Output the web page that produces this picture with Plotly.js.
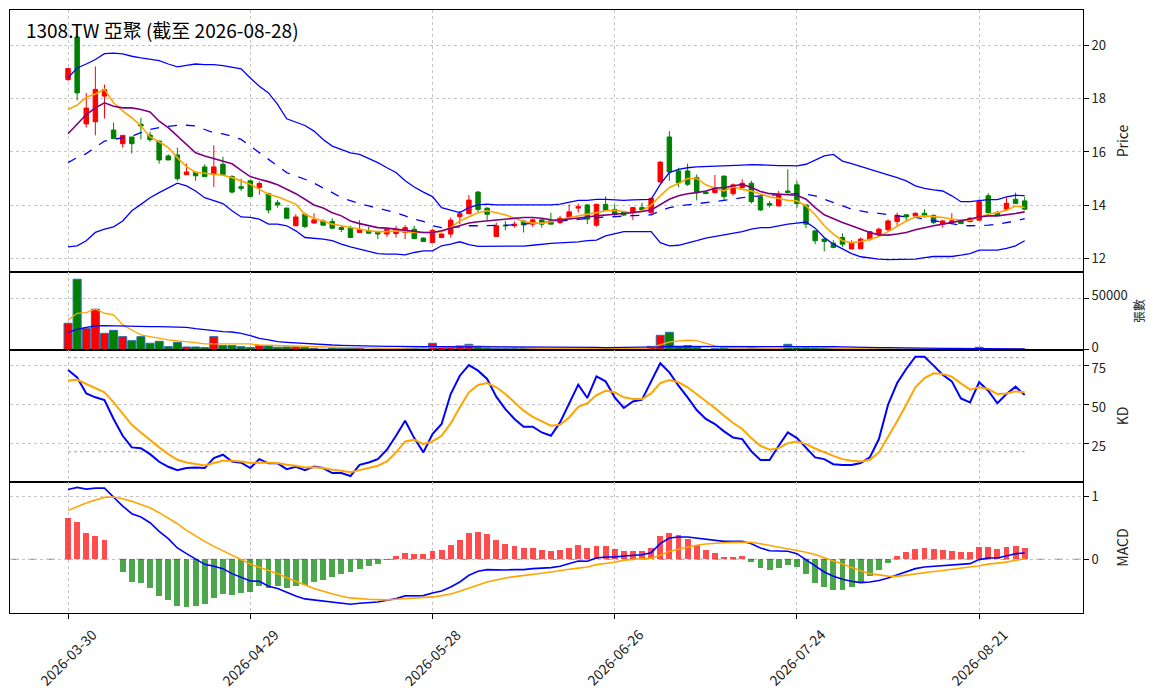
<!DOCTYPE html>
<html>
<head>
<meta charset="utf-8">
<script src="https://cdn.plot.ly/plotly-3.0.1.min.js"></script>
<style>
  html, body { margin: 0; padding: 0; background: #fff; }
  #chart { width: 1163px; height: 698px; }
</style>
</head>
<body>
<div id="chart"></div>
<script>
// 1308.TW daily candles, 2026-03-30 .. 2026-08-28 (trading days)
const TICK_POS = [0, 20, 40, 60, 80, 100];
const TICK_TEXT = ["2026-03-30", "2026-04-29", "2026-05-28", "2026-06-26", "2026-07-24", "2026-08-21"];

const OPEN = [18.71,20.30,17.05,17.13,18.09,16.82,16.31,16.56,17.03,16.63,
  16.41,15.85,15.89,15.15,15.24,15.44,15.16,15.54,15.08,14.70,
  14.92,14.67,14.44,14.10,13.90,13.24,13.67,13.34,13.42,13.40,
  13.17,13.15,12.99,13.05,13.00,12.93,12.95,12.99,13.11,12.78,
  12.61,12.80,12.93,13.58,13.69,14.50,13.90,12.84,13.26,13.24,
  13.42,13.30,13.46,13.42,13.36,13.55,13.90,14.02,13.26,14.04,
  13.85,13.76,13.73,13.92,13.73,14.88,16.56,15.29,15.29,15.04,
  14.50,14.48,15.10,14.44,14.67,14.83,14.32,14.07,13.98,14.54,
  14.77,14.02,13.05,12.74,12.59,12.80,12.37,12.38,12.74,12.90,
  13.09,13.40,13.65,13.61,13.71,13.63,13.30,13.40,13.42,13.40,
  13.45,14.36,13.73,13.86,14.23,14.17];
const HIGH = [19.15,20.40,18.21,19.20,18.52,17.10,16.62,16.56,17.28,16.76,
  16.41,15.91,16.16,15.56,15.24,15.54,16.25,15.82,15.13,15.00,
  14.95,14.90,14.48,14.20,13.92,13.67,13.73,13.71,13.48,13.52,
  13.24,13.24,13.45,13.20,13.02,13.11,13.24,13.27,13.24,12.80,
  13.11,12.95,13.55,13.79,14.39,14.54,13.92,13.36,13.42,13.40,
  13.45,13.51,13.48,13.73,13.61,14.04,14.07,14.05,14.07,14.34,
  14.04,13.80,13.95,14.10,14.30,15.66,16.78,15.41,15.56,15.16,
  14.54,15.14,15.10,14.82,14.98,14.92,14.32,14.17,14.54,15.35,
  14.92,14.02,13.05,12.80,12.70,12.96,12.70,12.80,13.05,13.17,
  13.48,13.73,13.65,13.73,13.86,13.66,13.45,13.71,13.48,13.57,
  14.23,14.46,13.80,14.29,14.48,14.32];
const LOW = [18.65,17.93,16.91,16.62,17.25,16.50,16.16,15.94,16.47,16.38,
  15.56,15.70,14.92,15.15,14.92,15.08,14.69,15.13,14.44,14.54,
  14.33,14.40,13.71,13.92,13.52,13.24,13.15,13.34,13.26,13.11,
  13.00,12.80,12.99,12.96,12.74,12.83,12.80,12.74,12.76,12.65,
  12.59,12.78,12.80,13.30,13.67,13.73,13.42,12.84,13.07,13.17,
  12.99,13.20,13.17,13.30,13.30,13.52,13.73,13.30,13.21,13.80,
  13.55,13.60,13.45,13.80,13.64,14.85,14.92,14.69,14.73,14.19,
  14.44,14.44,14.19,14.36,14.64,14.07,13.80,13.92,13.98,14.44,
  13.90,13.15,12.55,12.28,12.40,12.45,12.37,12.38,12.68,12.86,
  13.05,13.24,13.39,13.61,13.55,13.30,13.17,13.40,13.32,13.36,
  13.45,13.70,13.61,13.80,14.07,13.82];
const CLOSE = [19.12,18.21,17.64,18.34,18.34,16.50,16.62,16.31,16.97,16.46,
  15.70,15.70,15.00,15.25,15.11,15.08,15.44,15.16,14.50,14.64,
  14.33,14.82,13.83,14.02,13.52,13.57,13.21,13.46,13.26,13.15,
  13.10,12.80,13.09,12.96,12.93,13.11,13.11,13.17,12.76,12.65,
  13.07,12.93,13.45,13.69,14.20,13.85,13.67,13.24,13.24,13.30,
  13.27,13.46,13.30,13.30,13.52,13.76,13.95,13.49,14.04,13.82,
  13.67,13.64,13.92,13.83,14.26,15.62,15.25,14.85,14.79,14.48,
  14.44,14.67,14.33,14.77,14.83,14.14,13.83,14.01,14.38,14.48,
  14.07,13.30,12.68,12.65,12.43,12.55,12.61,12.74,13.02,13.11,
  13.42,13.63,13.57,13.71,13.58,13.36,13.42,13.42,13.32,13.52,
  14.14,13.73,13.65,14.08,14.07,13.86];

const MA5 = [17.59,17.75,18.05,18.17,18.34,17.84,17.53,17.28,16.97,16.56,
  16.38,16.16,15.79,15.45,15.24,15.20,15.16,15.13,15.04,14.92,
  14.79,14.60,14.42,14.32,14.19,14.05,13.67,13.52,13.42,13.30,
  13.24,13.17,13.11,13.05,13.02,13.02,13.05,13.02,12.99,12.99,
  12.99,13.02,13.17,13.42,13.58,13.73,13.80,13.73,13.65,13.52,
  13.40,13.34,13.34,13.39,13.45,13.55,13.61,13.65,13.73,13.80,
  13.82,13.77,13.71,13.80,14.01,14.36,14.67,14.82,15.01,15.01,
  14.77,14.64,14.54,14.70,14.60,14.54,14.42,14.32,14.26,14.19,
  14.17,13.98,13.65,13.24,12.93,12.68,12.61,12.65,12.73,12.84,
  13.02,13.21,13.42,13.57,13.61,13.58,13.55,13.49,13.45,13.45,
  13.57,13.67,13.73,13.82,13.98,13.92];
const MA10 = [16.68,17.03,17.40,17.65,17.84,17.71,17.65,17.65,17.59,17.50,
  17.15,16.91,16.59,16.28,15.97,15.85,15.76,15.66,15.56,15.31,
  15.08,14.98,14.89,14.77,14.60,14.44,14.23,14.02,13.90,13.73,
  13.61,13.42,13.32,13.24,13.17,13.15,13.11,13.05,13.01,12.99,
  12.99,13.05,13.15,13.24,13.34,13.39,13.42,13.46,13.49,13.52,
  13.55,13.55,13.52,13.46,13.45,13.49,13.52,13.57,13.61,13.65,
  13.67,13.70,13.73,13.77,13.83,14.04,14.23,14.36,14.44,14.48,
  14.54,14.64,14.67,14.73,14.79,14.67,14.52,14.44,14.42,14.42,
  14.38,14.23,13.92,13.65,13.49,13.36,13.24,13.11,12.99,12.90,
  12.89,12.93,12.99,13.09,13.17,13.24,13.30,13.36,13.42,13.49,
  13.57,13.61,13.61,13.65,13.70,13.76];
const BB_UP = [18.77,19.14,19.29,19.46,19.68,19.70,19.67,19.58,19.52,19.46,
  19.42,19.29,19.18,19.24,19.29,19.27,19.27,19.23,19.17,19.11,
  18.77,18.46,18.21,17.78,17.24,17.12,16.99,16.78,16.47,16.22,
  16.10,15.97,15.91,15.76,15.60,15.41,15.23,14.92,14.69,14.50,
  14.33,13.92,13.83,13.73,13.92,14.02,14.05,14.02,14.02,14.02,
  14.02,14.02,14.02,14.02,14.05,14.11,14.19,14.19,14.23,14.23,
  14.22,14.19,14.21,14.23,14.23,14.79,15.23,15.35,15.41,15.44,
  15.45,15.46,15.48,15.50,15.51,15.53,15.51,15.49,15.49,15.49,
  15.48,15.54,15.70,15.85,15.91,15.66,15.56,15.45,15.35,15.23,
  15.14,15.04,14.92,14.73,14.64,14.58,14.54,14.36,14.14,14.14,
  14.17,14.22,14.22,14.32,14.38,14.37];
const BB_MID = [15.60,15.79,15.94,16.16,16.41,16.47,16.53,16.59,16.72,16.84,
  16.91,16.96,17.00,17.00,16.97,16.84,16.72,16.68,16.59,16.47,
  16.22,15.97,15.72,15.48,15.23,15.10,14.98,14.83,14.67,14.48,
  14.29,14.17,14.07,13.98,13.90,13.80,13.73,13.61,13.49,13.40,
  13.24,13.17,13.17,13.20,13.24,13.24,13.24,13.24,13.26,13.27,
  13.30,13.32,13.35,13.39,13.42,13.46,13.49,13.52,13.55,13.57,
  13.58,13.61,13.62,13.63,13.65,13.80,13.92,13.98,14.02,14.07,
  14.11,14.14,14.17,14.23,14.29,14.33,14.36,14.38,14.39,14.42,
  14.44,14.42,14.36,14.23,14.11,13.98,13.86,13.80,13.73,13.70,
  13.65,13.61,13.57,13.55,13.49,13.42,13.36,13.30,13.26,13.24,
  13.24,13.26,13.30,13.36,13.42,13.51];
const BB_LOW = [12.45,12.49,12.68,12.99,13.11,13.20,13.42,13.80,14.04,14.29,
  14.48,14.67,14.83,14.73,14.54,14.29,14.17,14.07,13.80,13.57,
  13.55,13.49,13.30,13.30,13.24,13.05,12.80,12.78,12.74,12.68,
  12.55,12.45,12.37,12.28,12.20,12.18,12.18,12.15,12.24,12.30,
  12.30,12.49,12.55,12.64,12.53,12.47,12.47,12.47,12.47,12.47,
  12.48,12.51,12.55,12.58,12.60,12.61,12.64,12.68,12.70,12.86,
  12.93,13.02,13.02,13.02,13.02,12.61,12.49,12.51,12.59,12.68,
  12.78,12.84,12.88,12.95,13.02,13.11,13.17,13.17,13.24,13.30,
  13.34,13.38,13.15,12.80,12.55,12.37,12.20,12.08,12.03,11.99,
  11.97,11.97,11.98,11.99,12.05,12.09,12.09,12.09,12.14,12.20,
  12.33,12.33,12.33,12.39,12.49,12.68];

// volume in 張
const VOLUME = [25800,68400,21000,39400,16100,19000,12900,9000,12900,6500,
  8400,3200,7400,2900,2900,2300,12900,4200,4200,3200,
  2300,4200,4200,2600,2900,2900,2300,1600,800,1900,
  1600,1900,1900,600,1000,800,1300,1300,1300,1000,
  6500,2600,2600,3900,5500,2600,1900,1600,1300,1300,
  1300,1300,1000,1300,1000,1300,1000,1300,1600,1600,
  1600,1300,1000,1000,3500,14200,17100,3200,4200,2600,
  600,1300,1900,1000,1000,2600,1300,1000,1000,5500,
  2600,2600,1900,2900,1600,1300,1000,1000,800,800,
  800,800,800,800,800,600,600,600,600,800,
  2600,1300,800,800,800,600];
const VOL_MA5 = [29000,35500,36100,39700,35500,33900,24200,19400,14500,12900,
  11000,9700,8700,8100,7100,5800,5800,5800,6100,6100,
  5800,4800,4500,4200,3900,3500,3200,2900,2600,2300,
  2300,2300,2300,1900,1600,1600,1600,1900,1900,1900,
  2600,2900,3200,3500,3900,3900,3500,3200,2900,2100,
  1600,1400,1300,1200,1200,1200,1200,1200,1300,1400,
  1400,1400,1400,1300,2300,4800,7700,8700,9400,9000,
  6500,3900,2300,1900,1900,1900,1900,1600,1600,2600,
  2900,2900,2600,2600,1900,1600,1300,1100,1000,900,
  800,800,800,800,800,700,700,700,600,700,
  1000,1300,1300,1300,1300,1000];
const VOL_MA20 = [17100,20000,21900,23200,23500,23200,22900,22600,22600,22600,
  22600,22600,22600,21900,20600,19400,18400,17700,17400,16100,
  13900,11300,9700,8100,7400,6800,6100,5500,5200,4800,
  4500,4200,3900,3900,3500,3500,3500,3200,3200,3200,
  3200,3200,3200,3200,3200,3200,3200,3200,3200,2900,
  2900,2900,2600,2600,2600,2600,2600,2600,2600,2300,
  2300,2300,2300,2300,2600,2900,3500,3500,3900,3900,
  3900,3900,3900,3900,3900,3900,3900,3900,3900,3900,
  3900,3500,3500,3200,3200,2900,2600,2600,2300,2300,
  2300,2300,2000,2000,1800,1600,1600,1500,1400,1300,
  1300,1200,1200,1100,1000,1000];

const K_LINE = [72.1,67.4,57.2,54.7,53.0,40.9,30.2,22.8,22.3,18.5,
  13.6,10.4,8.3,9.6,10.0,9.6,16.0,18.1,13.8,13.0,
  9.6,15.3,12.6,12.6,8.9,10.4,8.3,10.6,9.6,6.4,
  6.4,4.5,11.7,13.2,15.3,21.3,30.2,39.8,28.7,19.6,
  31.3,37.7,56.8,68.5,75.3,71.7,66.4,55.1,47.2,40.9,
  36.0,36.0,32.3,30.2,38.7,50.4,62.8,54.3,68.1,64.9,
  54.7,47.9,52.1,53.2,64.3,76.4,70.6,62.1,54.7,46.6,
  40.9,37.7,33.0,29.1,28.1,20.2,14.7,14.7,23.8,32.3,
  28.7,22.8,16.4,15.3,12.1,11.5,11.5,12.8,16.4,28.1,
  50.0,63.8,72.8,80.6,80.6,74.9,69.1,64.9,54.0,51.5,
  64.3,58.9,50.9,56.8,61.5,56.2];
const D_LINE = [65.3,66.0,63.2,60.6,57.9,51.5,44.0,37.2,32.3,27.4,
  22.8,18.5,14.9,13.2,12.1,11.3,12.8,14.3,14.3,13.8,
  12.8,13.2,13.0,12.8,11.7,11.1,10.0,10.2,9.6,8.5,
  7.9,7.0,8.3,9.6,11.1,13.8,19.6,26.6,27.7,24.9,
  26.6,30.2,38.1,48.3,57.9,62.6,63.8,61.1,56.8,51.5,
  46.2,42.3,39.4,36.6,37.2,41.9,48.7,50.9,56.2,58.9,
  57.9,54.7,53.6,53.6,57.2,63.8,65.7,64.3,61.1,56.8,
  52.1,47.9,43.0,38.3,34.5,28.7,23.8,21.3,22.3,25.5,
  26.6,24.9,22.1,19.6,17.4,15.3,14.3,13.8,14.9,19.6,
  29.1,39.4,50.0,61.1,67.0,70.0,69.6,67.9,63.6,59.6,
  61.1,60.0,56.8,57.2,58.5,57.9];
const KD_LEVELS = [80, 20];

const OSC = [0.66,0.60,0.42,0.37,0.31,0.0,-0.20,-0.36,-0.38,-0.46,
  -0.59,-0.65,-0.74,-0.76,-0.74,-0.71,-0.62,-0.55,-0.57,-0.54,
  -0.52,-0.43,-0.46,-0.43,-0.46,-0.43,-0.41,-0.36,-0.33,-0.28,
  -0.23,-0.21,-0.15,-0.11,-0.07,-0.005,0.05,0.10,0.085,0.085,
  0.13,0.15,0.23,0.31,0.42,0.44,0.40,0.31,0.24,0.21,
  0.18,0.18,0.15,0.13,0.149,0.181,0.229,0.181,0.213,0.213,
  0.165,0.133,0.133,0.133,0.181,0.372,0.420,0.388,0.324,0.229,
  0.149,0.101,0.037,0.037,0.053,-0.043,-0.138,-0.170,-0.138,-0.090,
  -0.122,-0.234,-0.378,-0.441,-0.489,-0.489,-0.441,-0.378,-0.266,-0.170,
  -0.059,0.053,0.117,0.165,0.181,0.165,0.149,0.133,0.117,0.117,
  0.197,0.197,0.165,0.197,0.213,0.181];
const DIF = [1.117,1.149,1.122,1.138,1.138,0.995,0.851,0.729,0.676,0.585,
  0.447,0.330,0.181,0.090,0.0,-0.08,-0.112,-0.149,-0.229,-0.282,
  -0.346,-0.351,-0.431,-0.468,-0.532,-0.585,-0.633,-0.649,-0.67,-0.686,
  -0.697,-0.718,-0.702,-0.697,-0.681,-0.654,-0.628,-0.585,-0.585,-0.58,
  -0.537,-0.505,-0.441,-0.362,-0.255,-0.191,-0.165,-0.17,-0.17,-0.165,
  -0.165,-0.149,-0.144,-0.133,-0.112,-0.069,-0.027,-0.032,0.021,0.037,
  0.037,0.053,0.059,0.074,0.106,0.250,0.340,0.356,0.356,0.340,
  0.319,0.309,0.287,0.287,0.287,0.250,0.181,0.138,0.133,0.128,
  0.090,-0.005,-0.112,-0.202,-0.271,-0.319,-0.351,-0.372,-0.362,-0.340,
  -0.298,-0.245,-0.191,-0.149,-0.122,-0.112,-0.106,-0.096,-0.085,-0.069,
  -0.005,0.021,0.021,0.053,0.090,0.101];
const DEA = [0.782,0.846,0.899,0.947,0.989,0.995,0.968,0.926,0.878,0.824,
  0.745,0.660,0.569,0.463,0.372,0.287,0.207,0.138,0.074,0.0,
  -0.074,-0.128,-0.176,-0.229,-0.293,-0.351,-0.415,-0.468,-0.511,-0.553,
  -0.590,-0.617,-0.633,-0.638,-0.644,-0.649,-0.638,-0.628,-0.622,-0.612,
  -0.601,-0.580,-0.553,-0.511,-0.457,-0.410,-0.362,-0.324,-0.298,-0.277,
  -0.255,-0.239,-0.223,-0.202,-0.187,-0.160,-0.141,-0.122,-0.085,-0.069,
  -0.046,-0.013,-0.008,0.008,0.016,0.064,0.130,0.162,0.194,0.226,
  0.245,0.258,0.265,0.270,0.275,0.272,0.250,0.223,0.202,0.173,
  0.151,0.112,0.077,0.019,-0.027,-0.074,-0.130,-0.183,-0.229,-0.255,
  -0.269,-0.272,-0.250,-0.231,-0.212,-0.194,-0.180,-0.162,-0.144,-0.128,
  -0.104,-0.077,-0.061,-0.045,-0.016,0.010];

const FONT = "Noto Sans CJK TC, Noto Sans, DejaVu Sans, sans-serif";
const idx = CLOSE.map((_, i) => i);
const last = idx.length - 1;

function line(y, color, xa, ya, width, dash) {
  return {
    type: "scatter", mode: "lines", x: idx, y: y,
    line: { color: color, width: width || 1.5, dash: dash || "solid" },
    xaxis: xa, yaxis: ya, hoverinfo: "skip", showlegend: false
  };
}

const volColors = CLOSE.map((c, i) => (c >= OPEN[i] ? "red" : "green"));
const oscColors = OSC.map(v => (v >= 0 ? "rgba(255,0,0,0.7)" : "rgba(0,128,0,0.7)"));

const traces = [
  {
    type: "candlestick", x: idx, open: OPEN, high: HIGH, low: LOW, close: CLOSE,
    increasing: { line: { color: "red", width: 1 }, fillcolor: "red" },
    decreasing: { line: { color: "green", width: 1 }, fillcolor: "green" },
    whiskerwidth: 0, xaxis: "x", yaxis: "y", showlegend: false, hoverinfo: "skip"
  },
  line(BB_UP, "blue", "x", "y", 1.3),
  line(BB_LOW, "blue", "x", "y", 1.3),
  line(BB_MID, "blue", "x", "y", 1.3, "dash"),
  line(MA5, "orange", "x", "y", 1.6),
  line(MA10, "purple", "x", "y", 1.6),

  {
    type: "bar", x: idx, y: VOLUME, width: 0.88,
    marker: { color: volColors, line: { color: "#2a6db0", width: 1 } },
    xaxis: "x2", yaxis: "y2", showlegend: false, hoverinfo: "skip"
  },
  line(VOL_MA5, "orange", "x2", "y2", 1.3),
  line(VOL_MA20, "blue", "x2", "y2", 1.3),

  line(K_LINE, "blue", "x3", "y3", 2),
  line(D_LINE, "orange", "x3", "y3", 2),

  {
    type: "bar", x: idx, y: OSC, width: 0.65,
    marker: { color: oscColors, line: { width: 0 } },
    xaxis: "x4", yaxis: "y4", showlegend: false, hoverinfo: "skip"
  },
  line(DIF, "blue", "x4", "y4", 1.6),
  line(DEA, "orange", "x4", "y4", 1.6)
];

const GRID = "#c4c4c4";
const xBase = {
  range: [-6.37, 111.4], tickvals: TICK_POS, ticktext: TICK_TEXT,
  showgrid: true, gridcolor: GRID, griddash: "dot", gridwidth: 1,
  zeroline: false, showline: true, mirror: true, linecolor: "black", linewidth: 1,
  showticklabels: false, ticks: "", fixedrange: true
};
function yBase(domain, range, tickvals, title, titleSize, anchor) {
  return {
    domain: domain, range: range, tickvals: tickvals, side: "right", anchor: anchor,
    showgrid: true, gridcolor: GRID, griddash: "dot", gridwidth: 1,
    zeroline: false, showline: true, mirror: true, linecolor: "black", linewidth: 1,
    ticks: "outside", ticklen: 5, tickcolor: "black",
    tickfont: { size: 13, color: "#222" },
    title: { text: title, font: { size: titleSize, color: "#222" } },
    fixedrange: true
  };
}

// date labels centred on their ticks, rotated 45 degrees
const dateLabels = TICK_POS.map((p, i) => ({
  x: p, xref: "x4", y: 0, yref: "paper", yshift: -44,
  xanchor: "center", yanchor: "middle", showarrow: false,
  text: TICK_TEXT[i], textangle: -45, font: { size: 14, color: "#222" }
}));

const layout = {
  width: 1163, height: 698,
  margin: { l: 10, r: 80, t: 10, b: 85 },
  paper_bgcolor: "white", plot_bgcolor: "white",
  font: { family: FONT, color: "#222" },
  showlegend: false,
  bargap: 0,
  title: {
    text: "1308.TW 亞聚 (截至 2026-08-28)",
    font: { size: 19, color: "black" },
    xref: "paper", x: 0.0149, xanchor: "left",
    yref: "container", y: 1 - 31 / 698, yanchor: "middle"
  },
  xaxis: Object.assign({}, xBase, { anchor: "y", rangeslider: { visible: false } }),
  xaxis2: Object.assign({}, xBase, { anchor: "y2", matches: "x" }),
  xaxis3: Object.assign({}, xBase, { anchor: "y3", matches: "x" }),
  xaxis4: Object.assign({}, xBase, {
    anchor: "y4", matches: "x", ticks: "outside", ticklen: 5, tickcolor: "black"
  }),
  yaxis: yBase([0.5655, 1], [11.51, 21.31], [12, 14, 16, 18, 20], "Price", 14, "x"),
  yaxis2: Object.assign(yBase([0.4362, 0.5655], [0, 75400], [0, 50000], "張數", 12, "x2"),
    { tickformat: "d", ticklabelshift: -3 }),
  yaxis3: Object.assign(yBase([0.2172, 0.4362], [0.7, 84.9], [25, 50, 75], "KD", 14, "x3"),
    { ticklabelshift: 3 }),
  yaxis4: yBase([0, 0.2172], [-0.858, 1.235], [0, 1], "MACD", 14, "x4"),
  annotations: dateLabels,
  shapes: KD_LEVELS.map(v => ({
    type: "line", xref: "x3", yref: "y3", x0: 0, x1: last, y0: v, y1: v,
    line: { color: "#a0a0a0", width: 1, dash: "dot" }, layer: "below"
  })).concat([{
    type: "line", xref: "x4 domain", yref: "y4", x0: 0, x1: 1, y0: 0, y1: 0,
    line: { color: "#808080", width: 1, dash: "dash" }, layer: "below"
  }])
};

Plotly.newPlot("chart", traces, layout, { staticPlot: true, displayModeBar: false });
</script>
</body>
</html>
